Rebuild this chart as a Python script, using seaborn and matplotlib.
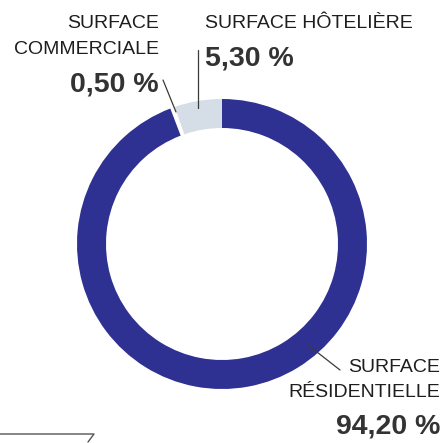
import matplotlib
matplotlib.use("Agg")
import matplotlib.pyplot as plt
import seaborn as sns
from matplotlib.lines import Line2D

# Data
categories = ["SURFACE HÔTELIÈRE", "SURFACE COMMERCIALE", "SURFACE RÉSIDENTIELLE"]
values = [5.30, 0.50, 94.20]
value_labels = ["5,30 %", "0,50 %", "94,20 %"]
colors = ["#d5dde6", "#ffffff", "#2e3192"]

sns.set_style("white")
plt.rcParams["font.family"] = ["Liberation Sans", "DejaVu Sans"]

W, H = 445, 443
fig = plt.figure(figsize=(W / 100, H / 100), dpi=100)

cx, cy, r = 222, 244, 145
ax = fig.add_axes([(cx - r) / W, 1 - (cy + r) / H, 2 * r / W, 2 * r / H])
ax.pie(values, colors=colors, startangle=90, counterclock=True,
       radius=1, wedgeprops=dict(width=0.2, edgecolor="none"))
ax.set_xlim(-1, 1)
ax.set_ylim(-1, 1)
ax.set_aspect("equal")
ax.axis("off")


def fx(x):
    return x / W


def fy(y):
    return 1 - y / H


label_kw = dict(fontsize=14.0, color="#1e1e1e")
num_kw = dict(fontsize=20.5, color="#333333", fontweight="bold")

# Commercial
fig.text(fx(159), fy(28), "SURFACE", ha="right", va="baseline", **label_kw)
fig.text(fx(159), fy(54), "COMMERCIALE", ha="right", va="baseline", **label_kw)
fig.text(fx(159), fy(92), value_labels[1], ha="right", va="baseline", **num_kw)

# Hotel
fig.text(fx(205), fy(28), "SURFACE HÔTELIÈRE", ha="left", va="baseline", **label_kw)
fig.text(fx(205), fy(66), value_labels[0], ha="left", va="baseline", **num_kw)

# Residential
fig.text(fx(440), fy(372), "SURFACE", ha="right", va="baseline", **label_kw)
fig.text(fx(440), fy(397), "RÉSIDENTIELLE", ha="right", va="baseline", **label_kw)
fig.text(fx(440), fy(434), value_labels[2], ha="right", va="baseline", **num_kw)

lc = "#3a3a3a"
for (x0, y0), (x1, y1) in [((163, 80), (176, 112)),
                           ((198, 50), (198, 108)),
                           ((308, 345), (340, 370))]:
    fig.add_artist(Line2D([fx(x0), fx(x1)], [fy(y0), fy(y1)],
                          color=lc, lw=0.9, transform=fig.transFigure))

# Bottom-left decoration
fig.add_artist(Line2D([fx(0), fx(94), fx(88)], [fy(434), fy(434), fy(442)],
                      color="#555555", lw=1.0, transform=fig.transFigure))

fig.savefig("out.png", dpi=100)
